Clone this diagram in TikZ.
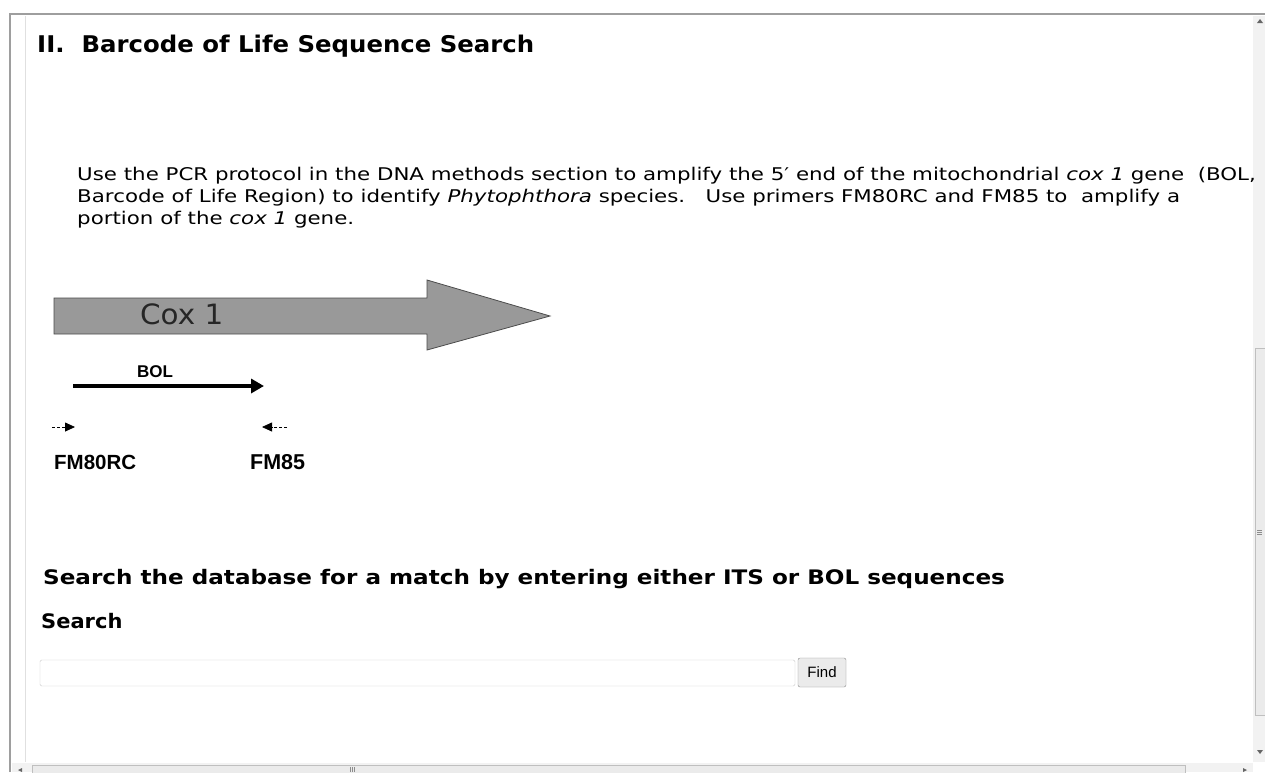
\documentclass[tikz,border=0pt]{standalone}
\usepackage{fontspec}
\setmainfont{DejaVu Sans}
\newfontfamily\arialfont{Liberation Sans}
\usetikzlibrary{arrows.meta}
\newcommand\widetext[1]{\scalebox{1.22}[1]{#1}}
\tikzset{
  body/.style={anchor=base west, inner sep=0pt, font=\fontsize{17.5}{22}\selectfont},
  labelbold/.style={anchor=base west, inner sep=0pt, font=\arialfont\bfseries\fontsize{20.5}{22}\selectfont},
  frameline/.style={draw=black!38},
  primer/.style={line width=0.8pt, densely dashed, -{Triangle[length=10pt,width=9pt]}},
}
\begin{document}
\begin{tikzpicture}[x=1pt,y=-1pt]
\useasboundingbox (0,0) rectangle (1265,772);
\fill[white] (0,0) rectangle (1265,772);
% window frame
\draw[frameline, line width=2.5pt] (10,772) -- (10,14) -- (1265,14);
\draw[draw=black!12, line width=1pt] (25,16) -- (25,762);
% vertical scrollbar
\fill[black!5] (1253,16) rectangle (1265,762);
\draw[black!25, fill=black!8] (1255,348) rectangle (1266,715);
\draw[black!45] (1257,530) -- (1262,530) (1257,532) -- (1262,532) (1257,534) -- (1262,534);
\fill[black!60] (1257,23) -- (1263,23) -- (1260,19) -- cycle;
\fill[black!60] (1257,750) -- (1263,750) -- (1260,754) -- cycle;
% horizontal scrollbar
\fill[black!5] (12,763) rectangle (1253,772);
\draw[black!25, fill=black!8] (32,765) rectangle (1185,773);
\draw[black!45] (350,767) -- (350,772) (352,767) -- (352,772) (354,767) -- (354,772);
\fill[black!60] (22,768) -- (18,770) -- (22,772) -- cycle;
\fill[black!60] (1243,768) -- (1247,770) -- (1243,772) -- cycle;

% heading
\node[anchor=base west, inner sep=0pt, font=\bfseries\fontsize{23}{28}\selectfont] (title) at (37,52) {\scalebox{1.06}[1]{II.\ \ Barcode of Life Sequence Search}};

% paragraph
\node[body] (p1) at (77,180) {\widetext{Use the PCR protocol in the DNA methods section to amplify the 5′ end of the mitochondrial \textit{cox 1} gene\ \ (BOL,}};
\node[body] (p2) at (77,202) {\widetext{Barcode of Life Region) to identify \textit{Phytophthora} species.\ \ \ Use primers FM80RC and FM85 to\ \ amplify a}};
\node[body] (p3) at (77,224) {\widetext{portion of the \textit{cox 1} gene.}};

% Cox 1 arrow
\draw[black!70, fill=black!40, line width=0.8pt] (54,298) -- (427,298) -- (427,280) -- (550,316) -- (427,350) -- (427,334) -- (54,334) -- cycle;
\node[anchor=base west, inner sep=0pt, font=\fontsize{28}{32}\selectfont, text=black!85] (cox) at (140,324) {\scalebox{1.05}[1]{Cox 1}};

% BOL arrow
\coordinate (bolA) at (73,386);
\coordinate (bolB) at (264,386);
\draw[line width=4pt, -{Triangle[length=13pt,width=14pt]}] (bolA) -- (bolB);
\node[labelbold, font=\arialfont\bfseries\fontsize{17}{19}\selectfont] (bol) at (137,377) {BOL};

% primers
\coordinate (f1a) at (52,427);
\coordinate (f1b) at (75,427);
\coordinate (f2a) at (287,427);
\coordinate (f2b) at (262,427);
\draw[primer] (f1a) -- (f1b);
\draw[primer] (f2a) -- (f2b);
\node[labelbold] (fm80) at (54,469) {FM80RC};
\node[labelbold, font=\arialfont\bfseries\fontsize{21.5}{22}\selectfont] (fm85) at (250,469) {FM85};

% search text
\node[anchor=base west, inner sep=0pt, font=\bfseries\fontsize{20}{24}\selectfont] (search1) at (43,584) {\scalebox{1.155}[1]{Search the database for a match by entering either ITS or BOL sequences}};
\node[anchor=base west, inner sep=0pt, font=\bfseries\fontsize{20}{24}\selectfont] (search2) at (41,628) {\scalebox{1.05}[1]{Search}};

% input
\draw[black!20, fill=white, rounded corners=1.5pt] (40,660) rectangle (795,686) node[coordinate] (boxse) {};
\node[draw=black!45, fill=black!8, rounded corners=2pt, minimum width=48pt, minimum height=29pt, inner sep=0pt, font=\arialfont\fontsize{15}{17}\selectfont] (find) at (822,672.5) {Find};
\end{tikzpicture}
\end{document}
